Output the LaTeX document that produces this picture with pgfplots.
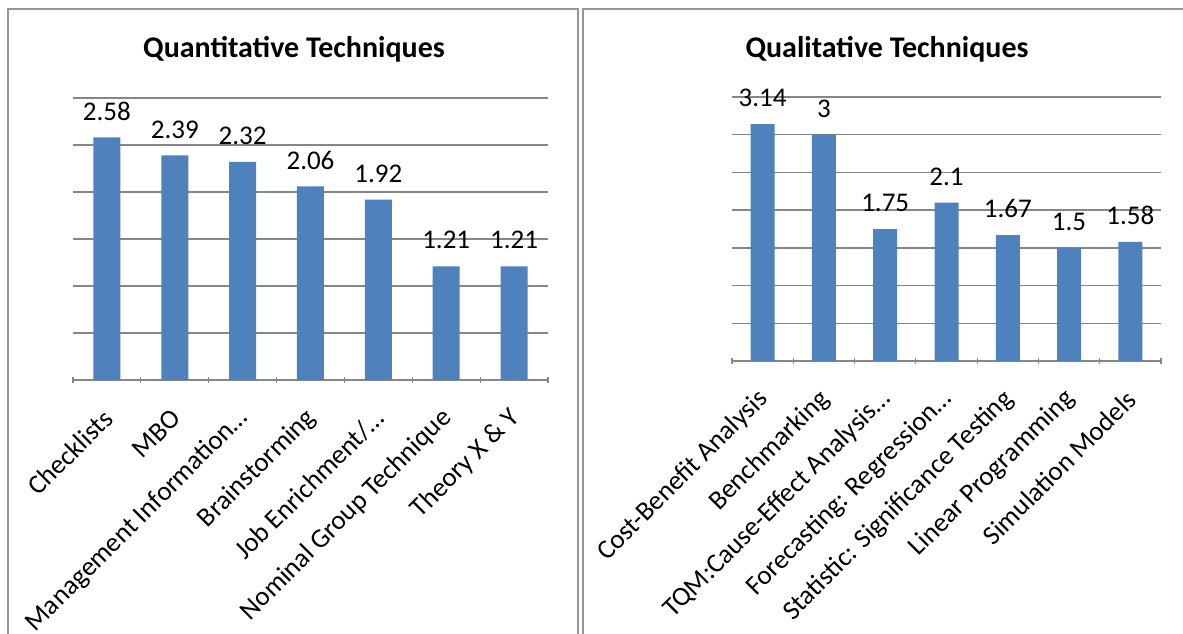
\documentclass[border=0pt]{standalone}
\usepackage{pgfplots}
\pgfplotsset{compat=1.18}
\usepackage{fontspec}
\setmainfont{Carlito}
\definecolor{barblue}{RGB}{79,129,189}
\definecolor{gridgray}{RGB}{134,134,134}
\definecolor{panelgray}{RGB}{150,150,150}
\pgfplotsset{
  panelstyle/.style={
    scale only axis,
    ybar,
    ymin=0,
    xmin=-0.5, xmax=6.5,
    xtick={0,...,6},
    minor xtick={-0.5,0.5,...,6.5},
    major tick length=0pt,
    minor tick length=3pt,
    tick align=outside,
    xtick style={draw=gridgray, line width=0.6pt},
    minor x tick style={draw=gridgray, line width=0.6pt},
    axis x line=bottom,
    axis y line=left,
    axis line style={-},
    x axis line style={draw=gridgray, line width=0.7pt},
    y axis line style={draw=none},
    ytick style={draw=none},
    yticklabels={},
    ymajorgrids,
    major grid style={draw=gridgray, line width=0.7pt},
    x tick label style={rotate=45, anchor=east, font=\fontsize{13.5}{16}\selectfont, inner sep=1pt, xshift=-10.4pt, yshift=-12.5pt},
    /pgf/number format/assume math mode=true,
    nodes near coords,
    every node near coord/.append style={font=\fontsize{13.5}{16}\selectfont, black, yshift=5pt},
    clip=false,
  }
}
\begin{document}
\begin{tikzpicture}[x=1pt,y=1pt]
\useasboundingbox (0pt,0pt) rectangle (591.5pt,316.5pt);
% panels
\draw[panelgray, line width=0.8pt] (4pt,-5pt) -- (4pt,312pt) -- (289pt,312pt) -- (289pt,-5pt);
\draw[panelgray, line width=0.8pt] (291.5pt,-5pt) -- (291.5pt,312pt) -- (600pt,312pt);
\node[font=\fontsize{15}{18}\selectfont\bfseries] at (147pt,292pt) {Quantitative Techniques};
\node[font=\fontsize{15}{18}\selectfont\bfseries] at (443.5pt,292pt) {Qualitative Techniques};
\begin{axis}[panelstyle,
  at={(36.5pt,126.5pt)}, anchor=south west,
  width=237.5pt, height=141pt,
  ymax=3, ytick={0,0.5,...,3},
  bar width=13.5pt,
  xticklabels={Checklists, MBO, Management Information\ldots, Brainstorming, Job Enrichment/\ldots, Nominal Group Technique, Theory X \& Y},
]
\addplot[fill=barblue, draw=none] coordinates {(0,2.58) (1,2.39) (2,2.32) (3,2.06) (4,1.92) (5,1.21) (6,1.21)};
\end{axis}
\begin{axis}[panelstyle,
  at={(366pt,136pt)}, anchor=south west,
  width=214.5pt, height=132pt,
  ymax=3.5, ytick={0,0.5,...,3.5},
  bar width=12pt,
  xticklabels={Cost-Benefit Analysis, Benchmarking, TQM:Cause-Effect Analysis\ldots, Forecasting: Regression\ldots, Statistic: Significance Testing, Linear Programming, Simulation Models},
]
\addplot[fill=barblue, draw=none] coordinates {(0,3.14) (1,3) (2,1.75) (3,2.1) (4,1.67) (5,1.5) (6,1.58)};
\end{axis}
\end{tikzpicture}
\end{document}
